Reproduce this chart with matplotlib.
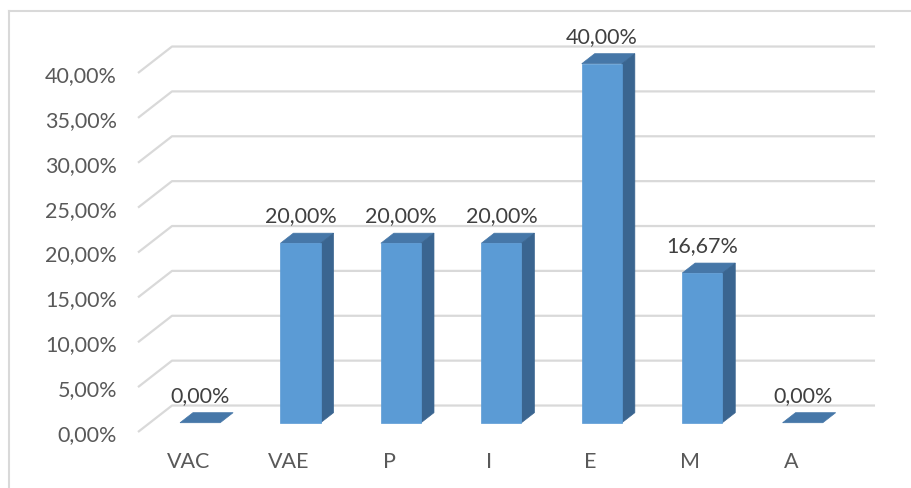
"""
3D-style column chart (Excel look) drawn with an oblique projection.
"""
import matplotlib
matplotlib.use("Agg")
import matplotlib.pyplot as plt
from matplotlib.patches import Polygon
from matplotlib.lines import Line2D
from matplotlib.transforms import offset_copy

categories = ['VAC', 'VAE', 'P', 'I', 'E', 'M', 'A']
values = [0.0, 20.0, 20.0, 20.0, 40.0, 16.67, 0.0]
ticks = [0, 5, 10, 15, 20, 25, 30, 35, 40]

FRONT = '#5B9BD5'
TOP = '#4677A8'
SIDE = '#3A6590'
GRID = '#D9D9D9'
TEXT = '#595959'

plt.rcParams['font.family'] = ['Lato', 'DejaVu Sans']

# depth of the floor in data units (categories, percent)
DX = 0.3386
DY = 2.95
D0, D1 = 0.35, 0.73   # bar front / back depth fractions
W = 0.4               # bar width
FS = 15.5


def pct(v):
    return f"{v:.2f}%".replace('.', ',')


fig = plt.figure(figsize=(9.11, 4.88), dpi=100)
ax = fig.add_axes([138 / 911, 56 / 488, 703 / 911, 359 / 488])
ax.set_xlim(-0.5, len(categories) - 0.5)
ax.set_ylim(0, 40)
ax.axis('off')

x0 = -0.5
x1 = len(categories) - 0.5

# gridlines: diagonal on the left floor edge plus the back wall
for t in ticks:
    ax.plot([x0, x0 + DX, x1 + DX], [t, t + DY, t + DY], color=GRID,
            lw=1.6, clip_on=False, zorder=1, solid_capstyle='butt')
    lab_tr = offset_copy(ax.transData, fig=fig, x=-21, y=-3, units='dots')
    ax.text(x0, t, pct(t), ha='right', va='center', fontsize=FS,
            color=TEXT, transform=lab_tr)

cat_tr = offset_copy(ax.transData, fig=fig, x=0, y=-30, units='dots')
val_tr = offset_copy(ax.transData, fig=fig, x=0, y=17, units='dots')

for i, (cat, v) in enumerate(zip(categories, values)):
    fx = i - W / 2 + D0 * DX
    fy = D0 * DY
    bx = i - W / 2 + D1 * DX
    by = D1 * DY
    # top face
    top = [(fx, fy + v), (fx + W, fy + v), (bx + W, by + v), (bx, by + v)]
    ax.add_patch(Polygon(top, closed=True, facecolor=TOP, edgecolor=TOP,
                         lw=0.5, clip_on=False, zorder=3))
    if v > 0:
        front = [(fx, fy), (fx + W, fy), (fx + W, fy + v), (fx, fy + v)]
        side = [(fx + W, fy), (bx + W, by), (bx + W, by + v), (fx + W, fy + v)]
        ax.add_patch(Polygon(side, closed=True, facecolor=SIDE, edgecolor=SIDE,
                             lw=0.5, clip_on=False, zorder=3))
        ax.add_patch(Polygon(front, closed=True, facecolor=FRONT,
                             edgecolor=FRONT, lw=0.5, clip_on=False, zorder=4))
    ax.text(fx + W / 2, by + v, pct(v), ha='center', va='center',
            fontsize=FS, color='#404040', transform=val_tr)
    ax.text(i, 0, cat, ha='center', va='center', fontsize=FS,
            color=TEXT, transform=cat_tr)

# outer chart border (only top and left visible)
fig.add_artist(Line2D([9 / 911, 9 / 911], [0, 1 - 11 / 488], color=GRID,
                      lw=1.5, transform=fig.transFigure))
fig.add_artist(Line2D([9 / 911, 1], [1 - 11 / 488, 1 - 11 / 488], color=GRID,
                      lw=1.5, transform=fig.transFigure))

fig.savefig('out.png', dpi=100)
plt.close(fig)
